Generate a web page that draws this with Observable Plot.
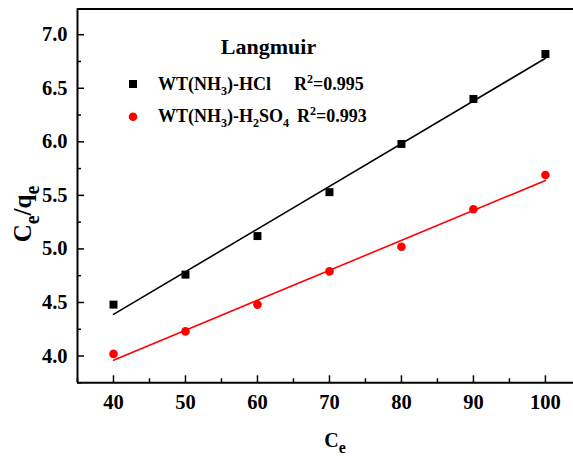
<!DOCTYPE html>
<html><head><meta charset="utf-8">
<script src="https://cdn.jsdelivr.net/npm/d3@7"></script>
<script src="https://cdn.jsdelivr.net/npm/@observablehq/plot@0.6"></script>
<style>body{margin:0;background:#fff}</style>
</head><body><div id="chart"></div>
<script>
// ---- data ----
const ce = [40, 50, 60, 70, 80, 90, 100];
const hclValues = [4.48, 4.76, 5.12, 5.53, 5.98, 6.40, 6.82];
const h2so4Values = [4.02, 4.23, 4.48, 4.79, 5.02, 5.37, 5.69];
const xMajorTicks = [40, 50, 60, 70, 80, 90, 100];
const xMinorTicks = [35, 45, 55, 65, 75, 85, 95];
const yMajorTicks = [4.0, 4.5, 5.0, 5.5, 6.0, 6.5, 7.0];
const yMinorTicks = [3.75, 4.25, 4.75, 5.25, 5.75, 6.25, 6.75];
const xDomain = [35, 103.9];
const yDomain = [3.75, 7.24];
const seriesKeys = ["HCl", "H2SO4"];
const seriesColors = ["#000000", "#ff0000"];
const r2Values = ["0.995", "0.993"];
const legendTitle = "Langmuir";

const data = [
  ...ce.map((x, i) => ({x, y: hclValues[i], s: seriesKeys[0]})),
  ...ce.map((x, i) => ({x, y: h2so4Values[i], s: seriesKeys[1]}))
];
const hcl = data.filter(d => d.s === seriesKeys[0]);
const h2so4 = data.filter(d => d.s === seriesKeys[1]);

const FONT = "'Liberation Serif', 'Times New Roman', serif";
const chart = Plot.plot({
  width: 573, height: 461,
  marginLeft: 77, marginRight: 0, marginTop: 8.5, marginBottom: 78.7,
  style: {fontFamily: FONT, fontWeight: "bold", fontSize: "20.5px", background: "#fff", color: "#000"},
  x: {domain: xDomain, label: null},
  y: {domain: yDomain, label: null},
  marks: [
    Plot.axisX({ticks: xMajorTicks, tickSize: -7, tickPadding: 19, tickFormat: d3.format("d"), strokeWidth: 1.5, label: null}),
    Plot.axisX({ticks: xMinorTicks, tickSize: -4, tickFormat: () => "", strokeWidth: 1.5, label: null}),
    Plot.axisY({ticks: yMajorTicks, tickSize: -7, tickPadding: 17, tickFormat: d3.format(".1f"), strokeWidth: 1.5, label: null}),
    Plot.axisY({ticks: yMinorTicks, tickSize: -4, tickFormat: () => "", strokeWidth: 1.5, label: null}),
    Plot.ruleX([xDomain[0]], {strokeWidth: 2}),
    Plot.ruleY([yDomain[0]], {strokeWidth: 2}),
    Plot.ruleY([yDomain[1]], {strokeWidth: 2}),
    Plot.linearRegressionY(hcl, {x: "x", y: "y", stroke: seriesColors[0], strokeWidth: 1.6, ci: 0}),
    Plot.linearRegressionY(h2so4, {x: "x", y: "y", stroke: seriesColors[1], strokeWidth: 1.6, ci: 0}),
    Plot.dot(hcl, {x: "x", y: "y", symbol: "square", r: 4.5, fill: seriesColors[0], stroke: null}),
    Plot.dot(h2so4, {x: "x", y: "y", symbol: "circle", r: 4.3, fill: seriesColors[1], stroke: null})
  ]
});
document.getElementById("chart").appendChild(chart);

// ---- rich text (subscripts / superscripts) ----
const svg = d3.select(chart);
function rich(parent, x, y, parts, size, anchor, transform, subRatio) {
  const ratio = subRatio || 0.68;
  const t = parent.append("text")
    .attr("x", x).attr("y", y)
    .style("font-family", FONT).style("font-weight", "bold")
    .style("font-size", size + "px").attr("fill", "#000")
    .attr("text-anchor", anchor || "start");
  if (transform) t.attr("transform", transform);
  let shift = 0;
  for (const p of parts) {
    const target = p.sub ? Math.round(size * 0.3) : p.sup ? -Math.round(size * 0.4) : 0;
    const ts = t.append("tspan").attr("dy", target - shift).text(p.t);
    ts.style("font-size", ((p.sub || p.sup) ? Math.round(size * ratio) : size) + "px");
    shift = target;
  }
  return t;
}
const g = svg.append("g");
// axis titles
rich(g, 335, 447, [{t: "C"}, {t: "e", sub: true}], 20, "middle", null, 0.78);
rich(g, 0, 0, [{t: "C"}, {t: "e", sub: true}, {t: "/q"}, {t: "e", sub: true}], 25, "middle", "translate(31,214) rotate(-90)", 0.78);
// legend
rich(g, 268.5, 54.3, [{t: legendTitle}], 22, "middle");
g.append("rect").attr("x", 129).attr("y", 80).attr("width", 8).attr("height", 8).attr("fill", seriesColors[0]);
g.append("circle").attr("cx", 133).attr("cy", 116.7).attr("r", 4.3).attr("fill", seriesColors[1]);
rich(g, 158, 90, [{t: "WT(NH"}, {t: "3", sub: true}, {t: ")-HCl"}], 18);
rich(g, 294, 90, [{t: "R"}, {t: "2", sup: true}, {t: "=" + r2Values[0]}], 18);
rich(g, 158, 122, [{t: "WT(NH"}, {t: "3", sub: true}, {t: ")-H"}, {t: "2", sub: true}, {t: "SO"}, {t: "4", sub: true}], 18);
rich(g, 297, 122, [{t: "R"}, {t: "2", sup: true}, {t: "=" + r2Values[1]}], 18);
</script>
</body></html>
